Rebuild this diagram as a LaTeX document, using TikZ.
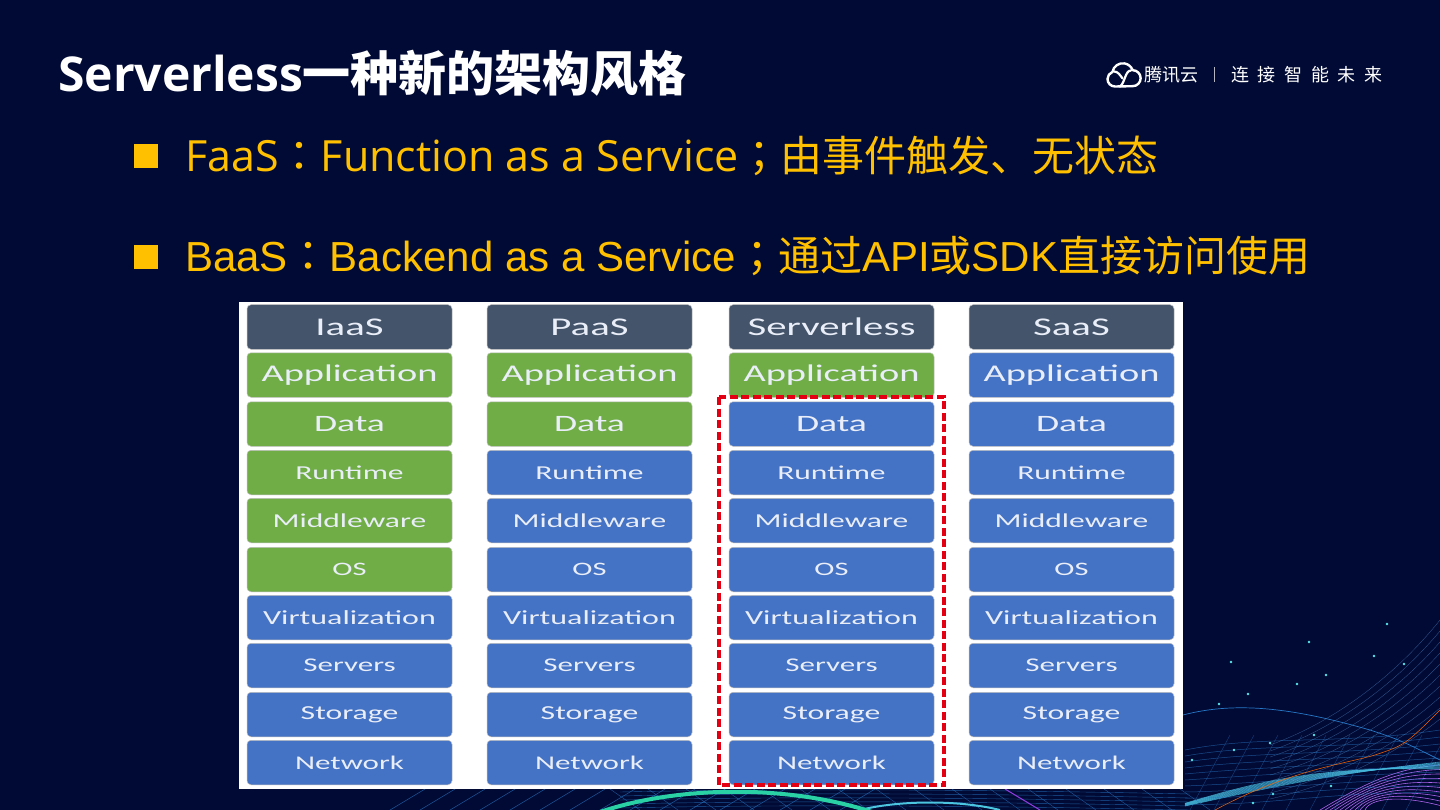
\documentclass[tikz,border=0pt]{standalone}
\usepackage{fontspec}
\setmainfont{Open Sans}
\newfontfamily\cjk{Noto Sans CJK SC}
\newfontfamily\cjkmark{Noto Sans CJK TC}
\newfontfamily\liber{Liberation Sans}
\newfontfamily\cellfont[FakeStretch=1.6]{Carlito}
\definecolor{night}{RGB}{1,10,52}
\definecolor{gold}{RGB}{255,192,0}
\definecolor{headgrey}{RGB}{68,84,106}
\definecolor{cellgreen}{RGB}{112,173,71}
\definecolor{cellblue}{RGB}{68,114,196}
\definecolor{cutred}{RGB}{226,0,18}
\definecolor{spark}{RGB}{90,230,235}
\definecolor{mesh}{RGB}{40,120,200}
\definecolor{arcteal}{RGB}{42,209,165}
\definecolor{wave}{RGB}{150,60,230}

\begin{document}
\begin{tikzpicture}[x=1pt, y=-1pt,
    headline/.style={anchor=base west, color=white, inner sep=0pt, font=\fontsize{48}{50}\selectfont\bfseries},
    bullet/.style={fill=gold, draw=none},
    itemtext/.style={anchor=base west, color=gold, inner sep=0pt},
    brand/.style={color=white, inner sep=0pt, font=\fontsize{18}{20}\selectfont\cjk},
    cell/.style={rounded corners=4pt, minimum width=205pt, minimum height=44.5pt, inner sep=0pt,
      draw=white!75!black, line width=0.5pt, text=white!88!cellblue},
    spot/.style={circle, fill=spark, inner sep=0pt, minimum size=2.6pt},
    cutbox/.style={draw=cutred, line width=3.5pt, dash pattern=on 8pt off 3.5pt}]

  \useasboundingbox (0,0) rectangle (1440,810);
  \fill[night] (0,0) rectangle (1440,810);

  % ---- mesh and waves, bottom right ------------------------------------------
  \foreach \i in {0,...,9} {
    \draw[mesh!80, line width=0.3pt, opacity=0.6] (1270,745+\i*6) .. controls (1340,720+\i*7) and (1400,670+\i*9) .. (1440,620+\i*11);
    \draw[mesh, line width=0.5pt, opacity=0.6] (1185,750+\i*6) .. controls (1260,735+\i*8) and (1340,745+\i*5) .. (1440,730+\i*7);
    \draw[mesh, line width=0.4pt, opacity=0.5] (1190+\i*24,810) -- (1230+\i*24,735);
    \draw[wave!80!white, line width=0.6pt] (1320+\i*5,810) .. controls (1370,780+\i*2) and (1400,768+\i*3) .. (1440,765+\i*4.5);
    \draw[spark!60!mesh, line width=0.6pt, opacity=0.8] (1185,806-\i*0.3) .. controls (1260,790-\i) and (1320,775-\i) .. (1440,762+\i*0.8);
  }
  \draw[mesh, line width=0.7pt] (1183,715) .. controls (1240,700) and (1300,710) .. (1370,730) .. controls (1400,740) .. (1440,760);
  \draw[orange!80!red, line width=0.5pt] (1215,810) .. controls (1290,770) and (1340,765) .. (1375,755) .. controls (1405,745) .. (1440,710);

  % ---- mesh along the bottom edge --------------------------------------------
  \foreach \i in {0,...,15} {
    \draw[mesh, line width=0.5pt, opacity=0.7] (390+\i*30,810) -- (425+\i*30,789);
    \draw[mesh, line width=0.4pt, opacity=0.7] (640+\i*38,810) -- (610+\i*38,789);
  }
  \foreach \i in {0,...,4} {
    \draw[mesh, line width=0.4pt, opacity=0.7] (620,792+\i*4) .. controls (800,788+\i*4) and (1000,790+\i*4) .. (1190,794+\i*4);
  }
  \draw[wave, line width=1pt] (1005,789) -- (1040,810);
  \draw[spark!70!mesh, line width=2pt] (860,810) .. controls (900,800) and (960,800) .. (1000,810);
  \draw[arcteal, line width=4pt] (600,812) .. controls (680,785) and (790,785) .. (872,812);

  % ---- sparks ----------------------------------------------------------------
  \foreach \sx/\sy in {1231/662,1309/642,1387/624,1404/664,1374/656,1326/675,1297/684,
                       1248/694,1219/704,1314/735,1270/743,1234/750,1192/760,1331/786,1273/794,1253/803} {
    \node[spot] (spark-\sx) at (\sx,\sy) {};
  }

  % ---- title and company mark ------------------------------------------------
  \node[headline] (title) at (58,92) {Serverless{\cjk 一种新的架构风格}};

  % angles run clockwise on the page, the y axis points down
  \draw[white, line width=2.4pt, line cap=round, line join=round]
    (1115,86.5) arc[start angle=90, end angle=250, radius=7.5]
    arc[start angle=190, end angle=340, radius=10.5]
    arc[start angle=-90, end angle=90, radius=8] -- cycle;
  \draw[white, line width=2.2pt, line cap=round]
    (1120,86.5) .. controls (1125,83) and (1125,70.5) .. (1131,70.5);
  \draw[white, line width=2.2pt, line cap=round]
    (1114,71.5) .. controls (1118,71.5) and (1120,75) .. (1122.5,78.5);
  \node[brand, anchor=west] (brandname) at (1144,75) {腾讯云};
  \draw[white!70!night, line width=0.6pt] (1214,67) -- (1214,82);
  \node[brand, anchor=west] (slogan) at (1231,75)
    {连\hspace{8.6pt}接\hspace{8.6pt}智\hspace{8.6pt}能\hspace{8.6pt}未\hspace{8.6pt}来};

  % ---- the two bullet lines --------------------------------------------------
  \fill[bullet] (134,144) rectangle (158,168);
  \node[itemtext, font=\fontsize{43}{50}\selectfont] (faas) at (185,172)
    {FaaS{\fontsize{42}{50}\selectfont\cjkmark ：}Function as a Service{\fontsize{42}{50}\selectfont\cjkmark ；\cjk 由事件触发、无状态}};
  \fill[bullet] (134,245) rectangle (158,269);
  \node[itemtext, font=\fontsize{42}{50}\selectfont\liber] (baas) at (185,272)
    {BaaS{\cjkmark ：}Backend as a Service{\cjkmark ；\cjk 通过}API{\cjk 或}SDK{\cjk 直接访问使用}};

  % ---- comparison table ------------------------------------------------------
  \fill[white] (239,302) rectangle (1183,789);
  \foreach \cx/\head/\greens in {349.5/IaaS/5, 589.5/PaaS/2, 831.5/Serverless/1, 1071.5/SaaS/0} {
    \node[cell, fill=headgrey, font=\fontsize{25.5}{27}\selectfont\cellfont] (\head-top) at (\cx,327) {\head};
    \foreach \ry/\rname/\rnum/\rsize in {375/Application/1/24, 424/Data/2/23.5, 472.5/Runtime/3/19.7,
                                  520.5/Middleware/4/19.7, 569.5/OS/5/19, 617.5/Virtualization/6/20,
                                  665.5/Servers/7/19.4, 714.5/Storage/8/19.8, 762.5/Network/9/19.4} {
      \ifnum\rnum>\greens \def\cellfill{cellblue}\else \def\cellfill{cellgreen}\fi
      \node[cell, fill=\cellfill, font=\fontsize{\rsize}{27}\selectfont\cellfont] (\head-\rname) at (\cx,\ry) {\rname};
    }
  }
  \draw[cutbox] (719,397) rectangle (944,785);
\end{tikzpicture}
\end{document}
